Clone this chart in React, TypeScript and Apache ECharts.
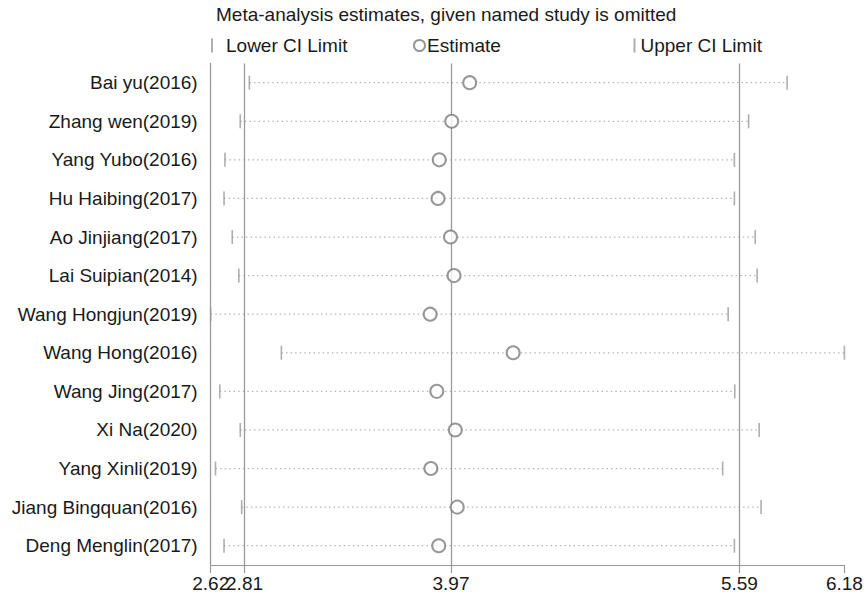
import React, { useEffect, useRef } from "react";
import * as echarts from "echarts";

// Studies, each omitted in turn
const studies = [
  "Bai yu(2016)",
  "Zhang wen(2019)",
  "Yang Yubo(2016)",
  "Hu Haibing(2017)",
  "Ao Jinjiang(2017)",
  "Lai Suipian(2014)",
  "Wang Hongjun(2019)",
  "Wang Hong(2016)",
  "Wang Jing(2017)",
  "Xi Na(2020)",
  "Yang Xinli(2019)",
  "Jiang Bingquan(2016)",
  "Deng Menglin(2017)",
];

// Pooled estimate and CI with each study left out
const lowerCI = [2.837, 2.786, 2.7, 2.695, 2.741, 2.778, 2.62, 3.017, 2.671, 2.786, 2.647, 2.794, 2.695];
const estimate = [4.075, 3.974, 3.904, 3.897, 3.967, 3.987, 3.853, 4.319, 3.89, 3.994, 3.857, 4.005, 3.901];
const upperCI = [5.858, 5.642, 5.562, 5.562, 5.679, 5.69, 5.527, 6.18, 5.564, 5.701, 5.496, 5.712, 5.562];

// Full-data pooled lower limit, estimate, upper limit
const pooled = [2.81, 3.97, 5.59];
// Axis range and tick values (the 2.81 tick sits on a second, overlaid axis)
const axisMin = 2.62;
const axisMax = 6.18;
const xTicks = [2.62, 2.81, 3.97, 5.59, 6.18];
const xTicksMain = [2.62, 3.97, 5.59, 6.18];
const xTicksExtra = [2.81];

const FONT = "Liberation Sans, Arial, Helvetica, sans-serif";
const TEXT = "#1a1a1a";
const GREY = "#9a9a9a";

export default function App() {
  const ref = useRef<HTMLDivElement>(null);

  useEffect(() => {
    if (!ref.current) return;
    const chart = echarts.init(ref.current, undefined, { renderer: "svg" });

    const legendText = { fontSize: 19, color: TEXT, fontFamily: FONT };
    const tickLabel = {
      showMinLabel: true,
      showMaxLabel: true,
      hideOverlap: false,
      formatter: (v: number) => v.toFixed(2),
      fontSize: 19,
      color: TEXT,
      fontFamily: FONT,
      margin: 9,
    };

    chart.setOption({
      animation: false,
      backgroundColor: "#ffffff",
      textStyle: { fontFamily: FONT },
      title: {
        text: "Meta-analysis estimates, given named study is omitted",
        left: 211,
        top: 0,
        textStyle: { fontSize: 19, fontWeight: "normal", color: TEXT, fontFamily: FONT },
      },
      legend: [
        {
          data: [{ name: "Lower CI Limit", icon: "rect" }],
          left: 206,
          top: 31,
          itemWidth: 2,
          itemHeight: 14,
          selectedMode: false,
          textStyle: { ...legendText, padding: [0, 0, 0, 8] },
        },
        {
          data: [{ name: "Estimate", icon: "emptyCircle" }],
          left: 408,
          top: 31,
          itemWidth: 11,
          itemHeight: 11,
          itemGap: 0,
          selectedMode: false,
          textStyle: { ...legendText, padding: [0, 0, 0, -3] },
        },
        {
          data: [{ name: "Upper CI Limit", icon: "rect" }],
          left: 628.5,
          top: 31,
          itemWidth: 2,
          itemHeight: 14,
          selectedMode: false,
          textStyle: legendText,
        },
      ],
      grid: {
        left: 210.7,
        top: 63.4,
        width: 633.7,
        height: 501.6,
        containLabel: false,
      },
      xAxis: [
        {
          type: "value",
          min: axisMin,
          max: axisMax,
          position: "bottom",
          splitLine: { show: false },
          axisLine: { show: true, lineStyle: { color: GREY, width: 1.2 } },
          axisTick: {
            show: true,
            length: 8,
            customValues: xTicks,
            lineStyle: { color: GREY, width: 1.2 },
          },
          axisLabel: { ...tickLabel, customValues: xTicksMain },
        },
        {
          type: "value",
          min: axisMin,
          max: axisMax,
          position: "bottom",
          offset: 0,
          splitLine: { show: false },
          axisLine: { show: false },
          axisTick: { show: false },
          axisLabel: { ...tickLabel, customValues: xTicksExtra },
        },
      ],
      yAxis: {
        type: "category",
        data: studies,
        inverse: true,
        axisLine: { show: true, lineStyle: { color: GREY, width: 1.3 } },
        axisTick: { show: false },
        splitLine: { show: false },
        axisLabel: { fontSize: 19, color: TEXT, fontFamily: FONT, margin: 13 },
      },
      series: [
        {
          name: "CI",
          type: "custom",
          silent: true,
          encode: { x: [0, 1], y: 2 },
          data: studies.map((s, i) => [lowerCI[i], upperCI[i], i]),
          renderItem: (_params: any, api: any) => {
            const p1 = api.coord([api.value(0), api.value(2)]);
            const p2 = api.coord([api.value(1), api.value(2)]);
            return {
              type: "line",
              shape: { x1: p1[0], y1: p1[1], x2: p2[0], y2: p2[1] },
              style: { stroke: "#b0b0b0", lineWidth: 1.2, lineDash: [1.4, 3.2] },
            };
          },
          z: 1,
        },
        {
          name: "Lower CI Limit",
          type: "scatter",
          symbol: "rect",
          symbolSize: [1.6, 14],
          itemStyle: { color: GREY },
          data: studies.map((s, i) => [lowerCI[i], s]),
          z: 3,
        },
        {
          name: "Upper CI Limit",
          type: "scatter",
          symbol: "rect",
          symbolSize: [1.6, 14],
          itemStyle: { color: GREY },
          data: studies.map((s, i) => [upperCI[i], s]),
          z: 3,
        },
        {
          name: "Estimate",
          type: "scatter",
          symbol: "emptyCircle",
          symbolSize: 13,
          itemStyle: { color: "#7d7d7d", borderColor: "#7d7d7d", borderWidth: 1 },
          data: studies.map((s, i) => [estimate[i], s]),
          z: 4,
          markLine: {
            silent: true,
            symbol: "none",
            label: { show: false },
            lineStyle: { color: GREY, type: "solid", width: 1.3 },
            data: pooled.map((v) => ({ xAxis: v })),
            z: 2,
          },
        },
      ],
    });

    return () => chart.dispose();
  }, []);

  return (
    <div
      ref={ref}
      style={{ position: "fixed", left: 0, top: 0, width: 867, height: 595, background: "#fff" }}
    />
  );
}
